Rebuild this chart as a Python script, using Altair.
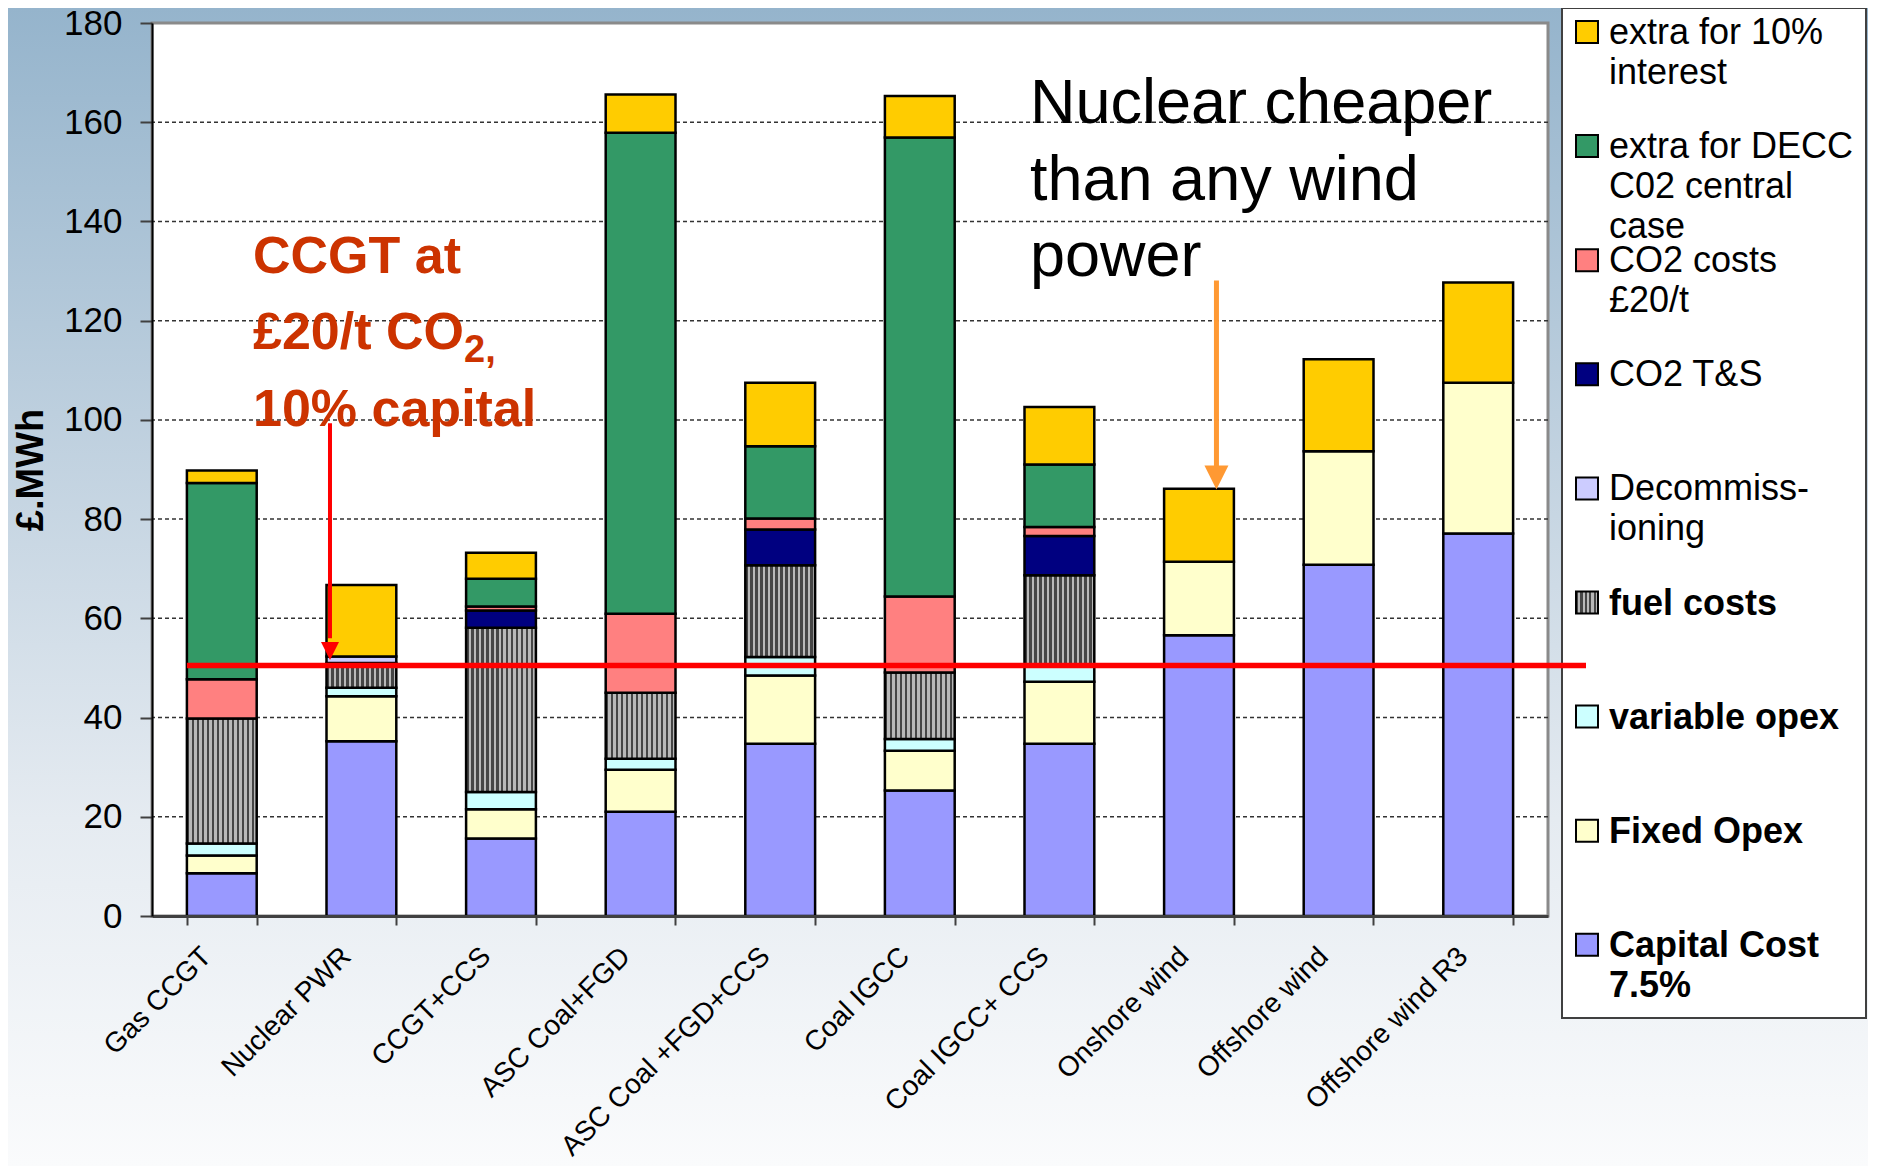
import altair as alt
import pandas as pd

# ---------------- data ----------------
techs = ["Gas CCGT", "Nuclear PWR", "CCGT+CCS", "ASC Coal+FGD", "ASC Coal +FGD+CCS",
         "Coal IGCC", "Coal IGCC+ CCS", "Onshore wind", "Offshore wind", "Offshore wind R3"]

# stack order, bottom to top
series = ["Capital Cost 7.5%", "Fixed Opex", "variable opex", "fuel costs", "Decommissioning",
          "CO2 T&S", "CO2 costs £20/t", "extra for DECC C02 central case", "extra for 10% interest"]
colors = ["#9999ff", "#ffffcc", "#ccffff", "#a6a6a6", "#ccccff",
          "#000080", "#ff8080", "#339966", "#ffcc00"]

capital = [8.6, 35.2, 15.6, 21.0, 34.7, 25.3, 34.7, 56.6, 70.8, 77.1]
fixed_opex = [3.6, 9.1, 5.9, 8.5, 13.8, 8.0, 12.5, 14.8, 22.9, 30.4]
variable_opex = [2.4, 1.7, 3.5, 2.2, 3.7, 2.4, 3.3, 0, 0, 0]
fuel = [25.2, 5.0, 33.1, 13.3, 18.5, 13.4, 18.2, 0, 0, 0]
decommissioning = [0, 1.3, 0, 0, 0, 0, 0, 0, 0, 0]
co2_ts = [0, 0, 3.5, 0, 7.2, 0, 7.9, 0, 0, 0]
co2_costs = [7.9, 0, 0.8, 15.9, 2.2, 15.3, 1.8, 0, 0, 0]
decc_extra = [39.6, 0, 5.6, 97.0, 14.6, 92.5, 12.6, 0, 0, 0]
interest_extra = [2.5, 14.4, 5.2, 7.7, 12.8, 8.4, 11.6, 14.7, 18.5, 20.2]

all_values = [capital, fixed_opex, variable_opex, fuel, decommissioning,
              co2_ts, co2_costs, decc_extra, interest_extra]

y_ticks = [0, 20, 40, 60, 80, 100, 120, 140, 160, 180]
grid_values = [20, 40, 60, 80, 100, 120, 140, 160]

legend_lines = [["extra for 10%", "interest"],
                ["extra for DECC", "C02 central", "case"],
                ["CO2 costs", "£20/t"],
                ["CO2 T&S"],
                ["Decommiss-", "ioning"],
                ["fuel costs"],
                ["variable opex"],
                ["Fixed Opex"],
                ["Capital Cost", "7.5%"]]
legend_series = list(reversed(series))
legend_bold = [False, False, False, False, False, True, True, True, True]

ccgt_note = ["CCGT at", "£20/t CO", "10% capital"]
ccgt_note_y = [129.7, 114.3, 98.8]
nuclear_note = ["Nuclear cheaper", "than any wind", "power"]
nuclear_note_y = [159.9, 144.3, 129.0]
threshold = 50.5

# ---------------- frames ----------------
rows = []
for si, (s, vals) in enumerate(zip(series, all_values)):
    for t, v in zip(techs, vals):
        rows.append(dict(tech=t, series=s, order=si, value=v))
df = pd.DataFrame(rows)

leg_sw = pd.DataFrame({"i": list(range(len(legend_series))), "series": legend_series})
leg_rows = []
for i, (lines, b) in enumerate(zip(legend_lines, legend_bold)):
    for j, txt in enumerate(lines):
        leg_rows.append(dict(i=i, j=j, text=txt, bold=b))
leg_txt = pd.DataFrame(leg_rows)

one = pd.DataFrame({"k": [0]})

W, H = 1396, 893
PAD = {"left": 144, "top": 15, "right": 320, "bottom": 250}
FONT = "Liberation Sans"


def stripes(n, dark, light, frac=0.5):
    stops = []
    for k in range(n):
        a = k / n
        b = (k + frac) / n
        c = (k + 1) / n
        stops += [dict(offset=a, color=dark), dict(offset=b, color=dark),
                  dict(offset=b, color=light), dict(offset=min(c, 1.0), color=light)]
    return dict(gradient="linear", x1=0, y1=0, x2=1, y2=0, stops=stops)


bar_stripes = stripes(14, "#454545", "#b8b8b8", 0.5)
sw_stripes = stripes(5, "#454545", "#b8b8b8", 0.5)

fill_scale = alt.Scale(domain=series, range=colors)
x_scale = alt.Scale(domain=techs, paddingInner=0.5, paddingOuter=0.25)
y_scale = alt.Scale(domain=[0, 180], nice=False)

x_axis = alt.Axis(title=None, tickBand="extent", tickSize=9, tickWidth=2, tickColor="#404040",
                  domainColor="#404040", domainWidth=3, labelAngle=-45, labelAlign="right",
                  labelBaseline="middle", labelFontSize=28, labelFont=FONT, labelColor="black",
                  labelPadding=27, labelOffset=-15, labelLimit=0, grid=False, zindex=1)
y_axis = alt.Axis(values=y_ticks, title="£.MWh", grid=False, tickSize=12, tickWidth=2,
                  tickColor="#404040", domainColor="black", domainWidth=2,
                  labelFontSize=35, labelFont=FONT, labelColor="black", labelPadding=18,
                  titleFontSize=38, titleFont=FONT, titleFontWeight="bold", titleColor="black",
                  titleAngle=-90, titleX=-121, titleY=H / 2, titleAlign="center",
                  titleBaseline="middle", zindex=1)


def X(band=0.5):
    return alt.X("tech:N", sort=techs, scale=x_scale, axis=x_axis, bandPosition=band)


def Y(field):
    return alt.Y(field, scale=y_scale, axis=y_axis)


# ---------------- layers ----------------
background = alt.Chart(one).mark_rect(
    fill=alt.Gradient(gradient="linear", x1=0, y1=0, x2=0, y2=1,
                      stops=[alt.GradientStop(color="#95b4cc", offset=0),
                             alt.GradientStop(color="#bdcfde", offset=0.35),
                             alt.GradientStop(color="#e5ebf1", offset=0.7),
                             alt.GradientStop(color="#fafbfc", offset=1)])
).encode(x=alt.value(-PAD["left"]), x2=alt.value(W + PAD["right"]),
         y=alt.value(-PAD["top"]), y2=alt.value(H + PAD["bottom"]))

plot_bg = alt.Chart(one).mark_rect(fill="white", stroke="#8a8a8a", strokeWidth=3).encode(
    x=alt.value(0), x2=alt.value(W), y=alt.value(0), y2=alt.value(H))

grid = alt.Chart(pd.DataFrame({"v": grid_values})).mark_rule(
    color="#333333", strokeWidth=1.5, strokeDash=[4, 3]
).encode(y=Y("v:Q"))

stacked = alt.Chart(df).transform_stack(
    stack="value", groupby=["tech"], sort=[alt.SortField("order", order="ascending")],
    as_=["y0", "y1"]
).transform_filter("datum.value > 0")

bars = stacked.mark_bar(stroke="black", strokeWidth=2.5).encode(
    x=alt.X("tech:N", sort=techs, scale=x_scale, axis=x_axis),
    y=Y("y0:Q"),
    y2="y1:Q",
    fill=alt.condition("datum.series === 'fuel costs'", alt.value(bar_stripes),
                       alt.Fill("series:N", scale=fill_scale, legend=None)),
)

# legend
legend_box = alt.Chart(one).mark_rect(fill="white", stroke="#404040", strokeWidth=2).encode(
    x=alt.value(1410), x2=alt.value(1714), y=alt.value(-15), y2=alt.value(995))

legend_sw = alt.Chart(leg_sw).transform_calculate(
    sy="-2 + datum.i * 114.1", sy2="20 + datum.i * 114.1"
).mark_rect(stroke="black", strokeWidth=2).encode(
    x=alt.value(1424), x2=alt.value(1446),
    y=alt.Y("sy:Q", scale=None), y2="sy2:Q",
    fill=alt.condition("datum.series === 'fuel costs'", alt.value(sw_stripes),
                       alt.Fill("series:N", scale=fill_scale, legend=None)),
)

legend_text_base = alt.Chart(leg_txt).transform_calculate(
    ty="21 + datum.i * 114.1 + datum.j * 40")
legend_text_n = legend_text_base.transform_filter("!datum.bold").mark_text(
    align="left", baseline="alphabetic", fontSize=36, font=FONT, color="black"
).encode(x=alt.value(1457), y=alt.Y("ty:Q", scale=None), text="text:N")
legend_text_b = legend_text_base.transform_filter("datum.bold").mark_text(
    align="left", baseline="alphabetic", fontSize=36, font=FONT, fontWeight="bold", color="black"
).encode(x=alt.value(1457), y=alt.Y("ty:Q", scale=None), text="text:N")

# red threshold line
red_line = alt.Chart(pd.DataFrame({"tech": [techs[0]], "v": [threshold]})).mark_rule(
    color="#ff0000", strokeWidth=5.5
).encode(x=X(0), x2=alt.value(1434), y=Y("v:Q"))

tri = "M-1,-1L1,-1L0,1Z"
red_arrow = alt.Chart(pd.DataFrame({"tech": [techs[1]], "a": [99.3], "b": [56.0]})).mark_rule(
    color="#ff0000", strokeWidth=4
).encode(x=X(0.05), y=Y("a:Q"), y2="b:Q")
red_head = alt.Chart(pd.DataFrame({"tech": [techs[1]], "a": [53.4]})).mark_point(
    shape=tri, filled=True, size=324, color="#ff0000", opacity=1
).encode(x=X(0.05), y=Y("a:Q"))

or_arrow = alt.Chart(pd.DataFrame({"tech": [techs[7]], "a": [128.1], "b": [90.0]})).mark_rule(
    color="#ff9933", strokeWidth=5
).encode(x=X(0.75), y=Y("a:Q"), y2="b:Q")
or_head = alt.Chart(pd.DataFrame({"tech": [techs[7]], "a": [88.4]})).mark_point(
    shape=tri, filled=True, size=576, color="#ff9933", opacity=1
).encode(x=X(0.75), y=Y("a:Q"))

# annotations
ccgt_text = alt.Chart(pd.DataFrame({"t": ccgt_note, "yv": ccgt_note_y})).mark_text(
    align="left", baseline="alphabetic", fontSize=52, font=FONT, fontWeight="bold", color="#cc3300"
).encode(x=alt.value(101), y=Y("yv:Q"), text="t:N")
ccgt_sub = alt.Chart(pd.DataFrame({"t": ["2,"], "yv": [111.7]})).mark_text(
    align="left", baseline="alphabetic", fontSize=38, font=FONT, fontWeight="bold", color="#cc3300"
).encode(x=alt.value(312), y=Y("yv:Q"), text="t:N")

nuc_text = alt.Chart(pd.DataFrame({"t": nuclear_note, "yv": nuclear_note_y})).mark_text(
    align="left", baseline="alphabetic", fontSize=63, font=FONT, color="black"
).encode(x=alt.value(878), y=Y("yv:Q"), text="t:N")

chart = alt.layer(
    background, plot_bg, grid, bars, legend_box, legend_sw, legend_text_n, legend_text_b,
    red_line, red_arrow, red_head, or_arrow, or_head, ccgt_text, ccgt_sub, nuc_text
).properties(
    width=W, height=H, padding=PAD, autosize=alt.AutoSizeParams(type="none")
).configure_view(stroke=None).configure(background="white")

chart.save("out.html", embed_options={"renderer": "svg", "actions": False})
